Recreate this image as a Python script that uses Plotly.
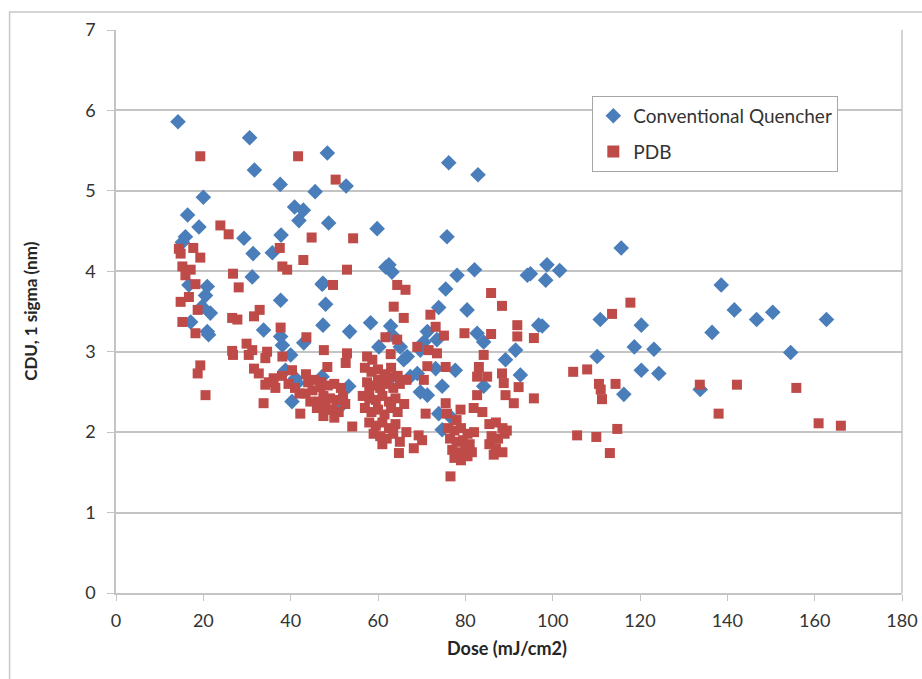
import plotly.graph_objects as go

# Conventional Quencher (blue diamonds)
cq_dose = [14.2, 30.6, 31.7, 37.6, 45.6, 48.4, 52.7, 76.2, 82.9, 20.0, 16.4, 19.0, 15.9, 15.2,
           29.3, 31.4, 35.8, 37.8, 40.9, 42.9, 41.9, 48.7, 59.8, 75.8, 62.5, 63.2, 61.8, 78.1,
           82.1, 94.2, 47.4, 75.5, 48.0, 73.9, 80.4, 47.4, 53.5, 58.3, 62.9, 63.2, 71.3, 73.5,
           82.7, 84.2, 60.2, 65.1, 70.5, 66.7, 65.9, 69.7, 91.5, 89.2, 92.6, 77.7, 73.2, 69.0,
           67.4, 53.3, 62.5, 74.7, 84.2, 69.7, 71.3, 73.9, 77.0, 51.4, 96.8, 16.7, 20.9, 20.5,
           17.1, 19.7, 21.6, 20.9, 21.2, 31.2, 37.7, 33.8, 37.7, 38.1, 40.0, 38.8, 41.1, 41.5,
           40.3, 47.2, 43.0, 47.2, 74.7, 115.7, 98.7, 101.6, 98.4, 94.9, 97.6, 110.9, 120.3,
           118.7, 123.2, 110.2, 120.3, 124.3, 116.3, 133.8, 136.5, 138.6, 141.6, 146.7, 150.4,
           162.7, 154.5]
cq_cdu = [5.86, 5.66, 5.26, 5.08, 4.99, 5.47, 5.06, 5.35, 5.20, 4.92, 4.70, 4.55, 4.43, 4.36,
          4.41, 4.22, 4.23, 4.45, 4.80, 4.76, 4.63, 4.60, 4.53, 4.43, 4.08, 3.99, 4.05, 3.95,
          4.02, 3.95, 3.85, 3.78, 3.59, 3.55, 3.52, 3.33, 3.25, 3.36, 3.32, 3.21, 3.25, 3.15,
          3.23, 3.12, 3.06, 3.06, 3.12, 2.94, 2.90, 3.02, 3.02, 2.90, 2.71, 2.77, 2.79, 2.73,
          2.69, 2.57, 2.65, 2.57, 2.57, 2.50, 2.46, 2.23, 2.17, 2.32, 3.33, 3.83, 3.81, 3.70,
          3.37, 3.56, 3.48, 3.25, 3.21, 3.93, 3.64, 3.27, 3.19, 3.08, 2.96, 2.77, 2.67, 2.61,
          2.38, 3.84, 3.11, 2.69, 2.03, 4.29, 4.08, 4.01, 3.89, 3.97, 3.32, 3.40, 3.33,
          3.06, 3.03, 2.94, 2.77, 2.73, 2.47, 2.53, 3.24, 3.83, 3.52, 3.40, 3.49,
          3.40, 2.99]

# PDB (red squares)
pdb_dose = [19.3, 41.7, 50.3, 23.9, 25.8, 14.4, 14.8, 17.7, 19.3, 37.5, 44.8, 42.9, 15.2, 17.1,
            15.9, 18.2, 14.8, 16.7, 18.7, 15.2, 18.2, 19.3, 18.7, 20.5, 26.8, 28.1, 38.1, 39.2,
            26.6, 27.8, 31.6, 32.9, 37.7, 43.6, 26.6, 26.8, 29.9, 31.2, 30.4, 34.6, 34.2, 38.1,
            31.6, 32.7, 36.1, 34.2, 40.3, 45.5, 43.4, 33.8, 42.2, 47.6, 48.4, 46.8, 47.6, 48.0,
            54.3, 52.9, 49.7, 64.4, 66.3, 85.9, 88.4, 63.6, 65.9, 72.0, 73.2, 75.1, 79.8, 85.9,
            91.9, 91.9, 95.7, 61.7, 64.4, 69.0, 71.6, 73.5, 62.9, 52.9, 52.6, 57.5, 58.7, 84.2,
            83.1, 82.7, 85.0, 71.3, 75.5, 70.5, 88.4, 88.8, 92.2, 82.7, 89.2, 91.1, 95.7, 70.9,
            75.5, 75.8, 78.9, 81.9, 83.9, 54.1, 117.8, 113.6, 104.7, 107.9, 110.6, 111.0, 114.4,
            111.3, 133.7, 138.0, 105.6, 110.0, 114.8, 113.1, 142.2, 155.8, 160.9, 166.0,
            57.0, 58.5, 60.0, 61.5, 63.0, 64.5, 57.5, 59.0, 60.5, 62.0, 63.5, 65.0, 56.5, 58.0,
            59.5, 61.0, 62.5, 64.0, 57.0, 58.5, 60.0, 61.5, 63.0, 64.5, 58.0, 59.5, 61.0, 62.5,
            64.0, 59.0, 60.5, 62.0, 63.5, 65.0, 61.0, 66.0, 66.5, 60.0, 62.5, 58.0,
            47.0, 48.5, 50.0, 51.5, 47.5, 49.0, 50.5, 52.0, 48.0, 49.5, 51.0, 47.5, 50.0, 52.5,
            46.5, 76.0, 77.5, 79.0, 80.5, 76.5, 78.0, 79.5, 81.0, 77.0, 78.5, 80.0, 77.5, 79.0,
            80.5, 76.6, 82.0, 78.0, 81.5, 85.5, 87.0, 88.5, 86.0, 87.5, 89.0, 85.5, 87.0, 88.5,
            86.5, 89.5, 68.2, 69.3, 70.1, 64.8, 66.5, 35.0, 36.5, 38.0, 39.5, 41.0, 42.0, 44.0,
            45.0, 44.5, 46.0, 43.5]
pdb_cdu = [5.43, 5.43, 5.14, 4.57, 4.46, 4.28, 4.22, 4.29, 4.17, 4.29, 4.42, 4.14, 4.06, 4.02,
           3.95, 3.84, 3.62, 3.68, 3.52, 3.37, 3.23, 2.83, 2.73, 2.46, 3.97, 3.80, 4.06, 4.02,
           3.42, 3.40, 3.44, 3.52, 3.30, 3.18, 3.01, 2.96, 3.10, 3.02, 2.96, 3.00, 2.92, 2.94,
           2.79, 2.73, 2.67, 2.59, 2.77, 2.65, 2.48, 2.36, 2.23, 3.02, 2.81, 2.56, 2.40, 2.28,
           4.41, 4.02, 3.83, 3.83, 3.77, 3.73, 3.57, 3.56, 3.42, 3.46, 3.31, 3.20, 3.23, 3.22,
           3.33, 3.19, 3.17, 3.18, 3.15, 3.06, 3.02, 2.98, 2.97, 2.98, 2.86, 2.94, 2.90, 2.96,
           2.81, 2.69, 2.69, 2.82, 2.81, 2.65, 2.73, 2.61, 2.56, 2.46, 2.46, 2.36, 2.42, 2.23,
           2.36, 2.23, 2.28, 2.30, 2.25, 2.07, 3.61, 3.47, 2.75, 2.78, 2.60, 2.53, 2.60,
           2.41, 2.59, 2.23, 1.96, 1.94, 2.04, 1.74, 2.59, 2.55, 2.11, 2.08,
           2.80, 2.75, 2.78, 2.72, 2.80, 2.70, 2.62, 2.58, 2.55, 2.60, 2.55, 2.60, 2.45, 2.42,
           2.40, 2.45, 2.38, 2.42, 2.30, 2.25, 2.28, 2.22, 2.30, 2.25, 2.12, 2.08, 2.12, 2.05,
           2.10, 1.98, 1.95, 1.92, 1.98, 1.88, 1.85, 2.35, 2.65, 2.65, 2.68, 2.50,
           2.62, 2.58, 2.60, 2.55, 2.45, 2.42, 2.40, 2.45, 2.30, 2.28, 2.25, 2.20, 2.18, 2.35,
           2.38, 2.05, 2.02, 2.05, 1.98, 1.92, 1.88, 1.90, 1.85, 1.78, 1.75, 1.78, 1.68, 1.65,
           1.70, 1.45, 2.00, 2.15, 1.75, 2.10, 2.12, 2.05, 1.95, 1.92, 1.98, 1.85, 1.80, 1.75,
           1.72, 2.02, 1.80, 1.96, 1.90, 1.74, 2.00, 2.62, 2.55, 2.70, 2.60, 2.55, 2.48, 2.62,
           2.52, 2.38, 2.30, 2.72]

x_ticks = [0, 20, 40, 60, 80, 100, 120, 140, 160, 180]
y_ticks = [0, 1, 2, 3, 4, 5, 6, 7]

FONT = "Lato, Open Sans, sans-serif"
GRID = "#c4c4c4"

fig = go.Figure()
fig.add_trace(go.Scatter(
    x=cq_dose, y=cq_cdu, mode="markers", name="Conventional Quencher", legendgroup="a",
    marker=dict(symbol="diamond", size=12, color="#4a7ebb", line=dict(width=0)),
))
fig.add_trace(go.Scatter(
    x=pdb_dose, y=pdb_cdu, mode="markers", name="PDB", legendgroup="b",
    marker=dict(symbol="square", size=10, color="#be4b48", line=dict(width=0)),
))

fig.update_layout(
    width=922, height=679,
    margin=dict(l=115.5, r=20, t=30, b=86, autoexpand=False),
    paper_bgcolor="white", plot_bgcolor="white",
    font=dict(family=FONT, size=18, color="#333333"),
    showlegend=True,
    legend=dict(
        x=0.606, y=0.883, xanchor="left", yanchor="top",
        bgcolor="white", bordercolor="#a6a6a6", borderwidth=1,
        font=dict(family=FONT, size=19, color="#333333"),
        itemsizing="constant", tracegroupgap=8, itemwidth=30,
    ),
    xaxis=dict(
        range=[0, 180], tickvals=x_ticks, ticktext=[str(v) for v in x_ticks],
        showgrid=False, zeroline=False, showline=True, linecolor=GRID, linewidth=1.5,
        ticks="outside", ticklen=6, tickcolor=GRID, mirror=False, ticklabelstandoff=5,
        tickfont=dict(family=FONT, size=18, color="#333333"),
    ),
    yaxis=dict(
        range=[0, 7], tickvals=y_ticks, ticktext=[str(v) for v in y_ticks],
        showgrid=True, gridcolor=GRID, gridwidth=1.5, zeroline=False,
        showline=True, linecolor=GRID, linewidth=1.5,
        ticks="outside", ticklen=7, tickcolor=GRID, mirror=False, ticklabelstandoff=8,
        tickfont=dict(family=FONT, size=18, color="#333333"),
    ),
    annotations=[
        dict(text="<b>Dose (mJ/cm2)</b>", xref="paper", yref="paper", x=0.497, y=-0.097,
             xanchor="center", yanchor="middle", showarrow=False,
             font=dict(family=FONT, size=18, color="#262626")),
        dict(text="<b>CDU, 1 sigma (nm)</b>", xref="paper", yref="paper", x=-0.109, y=0.5,
             xanchor="center", yanchor="middle", showarrow=False, textangle=-90,
             font=dict(family=FONT, size=17, color="#262626")),
    ],
    shapes=[
        dict(type="line", xref="paper", yref="paper", x0=1, x1=1, y0=0, y1=1,
             line=dict(color=GRID, width=1.5)),
        dict(type="rect", xref="paper", yref="paper", x0=-0.1354, x1=1.04, y0=-0.175, y1=1.032,
             line=dict(color="#c8c8c8", width=1.5), layer="below"),
    ],
)

fig.write_html("out.html", config={"displayModeBar": False},
               post_script="document.body.style.margin='0';")
